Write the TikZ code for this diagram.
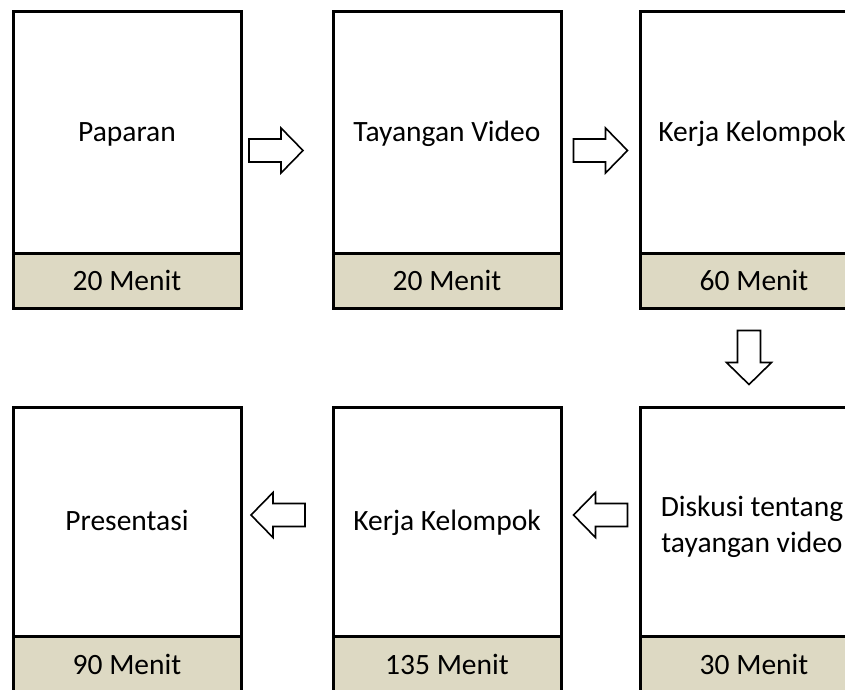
\documentclass[tikz,border=0pt]{standalone}
\usepackage{fontspec}
\setmainfont{Carlito}
\usetikzlibrary{calc}
\definecolor{stripfill}{HTML}{DDD9C3}
\begin{document}
\begin{tikzpicture}[x=1pt,y=-1pt,
  panel/.style={draw, line width=3pt, fill=white, minimum width=228pt, inner sep=0pt},
  strip/.style={draw, line width=3pt, fill=stripfill, minimum width=228pt, inner sep=0pt,
    font=\fontsize{29.5}{35}\selectfont},
  paneltext/.style={inner sep=0pt, font=\fontsize{29.5}{36}\selectfont, align=center},
  blockarrow/.pic={\draw[line width=1.6pt, fill=white, line join=miter]
    (-27,-11.5) -- (5,-11.5) -- (5,-22.5) -- (27,0) -- (5,22.5) -- (5,11.5) -- (-27,11.5) -- cycle;}
]
\useasboundingbox (0,0) rectangle (845,689);
\clip (0,0) rectangle (845,689);

% upper row of panels
\node[panel, minimum height=297pt] (p1) at (127,159.5) {};
\node[panel, minimum height=297pt] (p2) at (447,159.5) {};
\node[panel, minimum height=297pt] (p3) at (754,159.5) {};
\node[strip, minimum height=55pt, anchor=south] (s1) at (p1.south) {20 Menit};
\node[strip, minimum height=55pt, anchor=south] (s2) at (p2.south) {20 Menit};
\node[strip, minimum height=55pt, anchor=south] (s3) at (p3.south) {60 Menit};
\node[paneltext, anchor=base] (t1) at (127,141) {Paparan};
\node[paneltext, anchor=base] (t2) at (447,141) {Tayangan Video};
\node[paneltext, anchor=base] (t3) at (752,141) {Kerja Kelompok};

% lower row of panels
\node[panel, minimum height=285pt] (q1) at (127,549.5) {};
\node[panel, minimum height=285pt] (q2) at (447,549.5) {};
\node[panel, minimum height=285pt] (q3) at (754,549.5) {};
\node[strip, minimum height=56pt, anchor=south] (r1) at (q1.south) {90 Menit};
\node[strip, minimum height=56pt, anchor=south] (r2) at (q2.south) {135 Menit};
\node[strip, minimum height=56pt, anchor=south] (r3) at (q3.south) {30 Menit};
\node[paneltext, anchor=base] (u1) at (127,530.5) {Presentasi};
\node[paneltext, anchor=base] (u2) at (447,530.5) {Kerja Kelompok};
\node[paneltext] (u3) at (752,527) {Diskusi tentang\\tayangan video};

% flow arrows between the panels
\pic at ($(p1.east)!0.5!(p2.west)+(-11,-9)$) {blockarrow};
\pic at ($(p2.east)!0.5!(p3.west)+(0,-9)$) {blockarrow};
\pic[rotate=-90] at ($(s3.south)!0.5!(q3.north)+(-5,0)$) {blockarrow};
\pic[rotate=180] at ($(q3.west)!0.5!(q2.east)+(0,-34.5)$) {blockarrow};
\pic[rotate=180] at ($(q2.west)!0.5!(q1.east)+(-9,-34.5)$) {blockarrow};
\end{tikzpicture}
\end{document}
